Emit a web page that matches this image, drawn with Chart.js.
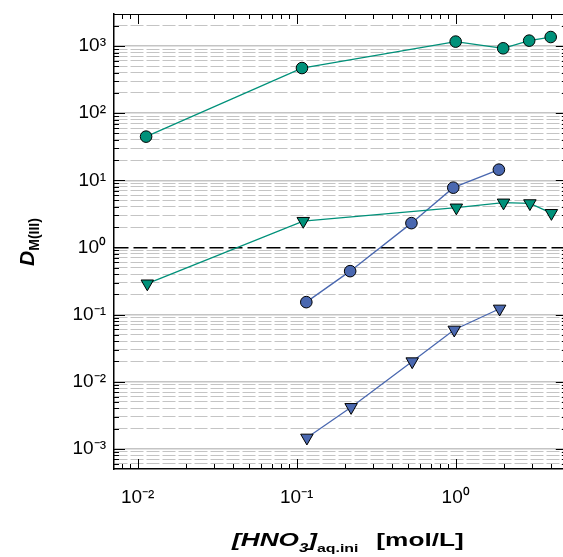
<!DOCTYPE html>
<html>
<head>
<meta charset="utf-8">
<script src="https://cdn.jsdelivr.net/npm/chart.js@4"></script>
<style>
  html, body { margin: 0; padding: 0; overflow: hidden; background: #fff; }
  #wrap { position: relative; width: 563px; height: 557px; overflow: hidden; }
  canvas { position: absolute; left: 0; top: 0; }
  .ttl { position: absolute; font-family: "Liberation Sans", Arial, sans-serif; font-weight: bold; color: #000; white-space: nowrap; }
  #ytitle sub { font-size: 14px; font-style: normal; vertical-align: -5px; }
  #xtitle { transform: scaleX(1.38); transform-origin: left center; }
  #xtitle sub { font-size: 11.5px; font-style: normal; vertical-align: -6px; }
  #xtitle sub.tres { font-size: 12px; font-style: italic; }
</style>
</head>
<body>
<div id="wrap">
  <canvas id="myChart" width="575" height="557"></canvas>
  <div class="ttl" id="ytitle" style="left:-13px; top:227px; width:80px; height:30px; line-height:30px; text-align:center; font-size:21px; transform:rotate(-90deg);"><i>D</i><sub>M(III)</sub></div>
  <div class="ttl" id="xtitle" style="left:232px; top:529px; font-size:19px; line-height:22px;"><i>[HNO<sub class="tres">3</sub>]</i><sub>aq.ini</sub><span style="margin-left:13px">[mol/L]</span></div>
</div>
<script>
const ctx = document.getElementById("myChart");

// [HNO3] (mol/L) and D values
const greenCircleX = [0.0113, 0.108, 1.0, 1.99, 2.9, 3.96];
const greenCircleD = [44.7, 470, 1164, 925, 1203, 1362];
const greenTriX = [0.0115, 0.11, 1.01, 2.0, 2.93, 4.0];
const greenTriD = [0.289, 2.47, 3.91, 4.64, 4.53, 3.24];
const blueCircleX = [0.115, 0.217, 0.527, 0.966, 1.87];
const blueCircleD = [0.153, 0.443, 2.30, 7.76, 14.4];
const blueTriX = [0.116, 0.22, 0.533, 0.98, 1.89];
const blueTriD = [0.00146, 0.00417, 0.0200, 0.0593, 0.122];

// labelled decades
const xDecades = [0.001, 0.01, 0.1, 1];
const yDecades = [0.0001, 0.001, 0.01, 0.1, 1, 10, 100, 1000];

const verde = "#00917a";
const azul = "#4a68b0";

const juntar = (xs, ys) => xs.map((x, i) => ({ x: x, y: ys[i] }));

const esDecada = (v) => Math.abs(Math.log10(v) - Math.round(Math.log10(v))) < 1e-6;

const sup = { "-": "\u207B", "0": "\u2070", "1": "\u00B9", "2": "\u00B2", "3": "\u00B3" };
const etiqueta = (v) => {
  if (!esDecada(v)) return "";
  const e = String(Math.round(Math.log10(v)));
  return "10" + e.split("").map((c) => sup[c]).join("");
};

// decades plus 2..9 minors, kept inside min..max
const ticksLog = (decadas) => (scale) => {
  const lista = [];
  decadas.forEach((d) => {
    for (let k = 1; k <= 9; k++) {
      const v = +(d * k).toPrecision(6);
      if (v > scale.min && v <= scale.max) lista.push({ value: v, major: k === 1 });
    }
  });
  scale.ticks = lista;
};

// inward ticks on all four sides + top frame line
const marcoTicks = {
  id: "marcoTicks",
  afterDraw(chart) {
    const { ctx, chartArea: a, scales } = chart;
    ctx.save();
    ctx.strokeStyle = "#000";
    ctx.lineWidth = 1;
    ctx.beginPath();
    ctx.moveTo(a.left, a.top + 0.5);
    ctx.lineTo(a.right, a.top + 0.5);
    scales.x.ticks.forEach((t) => {
      const px = Math.round(scales.x.getPixelForValue(t.value)) + 0.5;
      const len = t.major ? 10 : 5;
      ctx.moveTo(px, a.bottom);
      ctx.lineTo(px, a.bottom - len);
      ctx.moveTo(px, a.top);
      ctx.lineTo(px, a.top + len);
    });
    scales.y.ticks.forEach((t) => {
      const py = Math.round(scales.y.getPixelForValue(t.value)) + 0.5;
      const len = t.major ? 11 : 5;
      ctx.moveTo(a.left, py);
      ctx.lineTo(a.left + len, py);
      ctx.moveTo(a.right, py);
      ctx.lineTo(a.right - len, py);
    });
    ctx.stroke();
    ctx.restore();
  },
};

const serie = (data, color, estilo, radio) => ({
  data: data,
  showLine: true,
  borderColor: color,
  borderWidth: 1.3,
  pointStyle: estilo,
  pointRotation: estilo === "triangle" ? 180 : 0,
  pointRadius: radio,
  pointBackgroundColor: color,
  pointBorderColor: "#000",
  pointBorderWidth: 1,
});

new Chart(ctx, {
  type: "line",
  data: {
    datasets: [
      serie(juntar(greenCircleX, greenCircleD), verde, "circle", 5.8),
      serie(juntar(greenTriX, greenTriD), verde, "triangle", 7.2),
      serie(juntar(blueCircleX, blueCircleD), azul, "circle", 5.8),
      serie(juntar(blueTriX, blueTriD), azul, "triangle", 7.2),
    ],
  },
  plugins: [marcoTicks],
  options: {
    responsive: false,
    animation: false,
    layout: { padding: { top: 14, right: 6, left: 0, bottom: 0 } },
    plugins: { legend: { display: false }, tooltip: { enabled: false } },
    scales: {
      x: {
        type: "logarithmic",
        min: 0.0071,
        max: 5,
        afterBuildTicks: ticksLog(xDecades),
        afterFit: (s) => {
          s.height = 88;
          s.paddingLeft = 0;
          s.paddingRight = 0;
        },
        grid: { display: false, drawTicks: false },
        border: { display: true, color: "#000", width: 1.5 },
        ticks: {
          autoSkip: false,
          maxRotation: 0,
          padding: 17,
          color: "#000",
          font: { family: "'Liberation Sans', Arial, sans-serif", size: 19 },
          callback: (v) => etiqueta(v),
        },
      },
      y: {
        type: "logarithmic",
        min: 0.0005,
        max: 3000,
        afterBuildTicks: ticksLog(yDecades),
        afterFit: (s) => {
          s.width = 114;
          s.paddingTop = 0;
          s.paddingBottom = 0;
        },
        grid: {
          drawTicks: false,
          color: (c) => (c.tick && c.tick.value === 1 ? "#000" : "#c4c4c4"),
          lineWidth: (c) => (c.tick && c.tick.major ? 1.5 : 1),
        },
        border: {
          display: true,
          color: "#000",
          width: 1.5,
          dash: (c) => {
            if (!c.tick) return [];
            if (c.tick.value === 1) return [14, 5];
            return c.tick.major ? [] : [13, 3];
          },
        },
        ticks: {
          autoSkip: false,
          padding: 8,
          color: "#000",
          font: { family: "'Liberation Sans', Arial, sans-serif", size: 19 },
          callback: (v) => etiqueta(v),
        },
      },
    },
  },
});
</script>
</body>
</html>
